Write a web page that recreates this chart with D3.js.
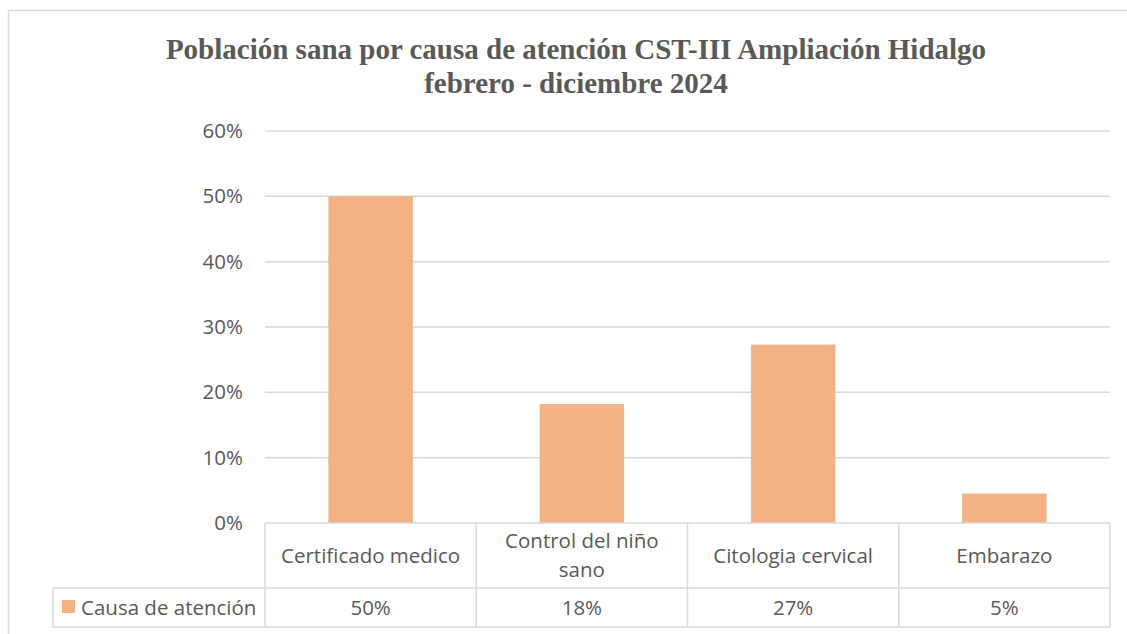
<!DOCTYPE html>
<html>
<head>
<meta charset="utf-8">
<script src="https://cdn.jsdelivr.net/npm/d3@7"></script>
<style>
  body { margin: 0; background: #fff; }
  svg text { fill: #595959; }
</style>
</head>
<body>
<div id="chartContainer"></div>
<script>
const categories = ['Certificado medico', 'Control del niño sano', 'Citologia cervical', 'Embarazo'];
const categoryLines = [['Certificado medico'], ['Control del niño', 'sano'], ['Citologia cervical'], ['Embarazo']];
const values = [0.50, 0.182, 0.273, 0.045];
const seriesName = 'Causa de atención';
const yTicks = [0, 0.1, 0.2, 0.3, 0.4, 0.5, 0.6];
const titleLines = ['Población sana por causa de atención CST-III Ampliación Hidalgo', 'febrero - diciembre 2024'];

const svgWidth = 1127;
const svgHeight = 634;
const plot = { left: 265, right: 1110, top: 131, bottom: 523 };
const rowH1 = 65, rowH2 = 39;
const legendLeft = 53;
const gridColor = '#d9d9d9';
const barColor = '#f4b183';
const labelSize = '20.5px';

const svg = d3.select('#chartContainer')
    .append('svg')
    .attr('width', svgWidth)
    .attr('height', svgHeight);

// outer chart border
svg.append('rect')
    .attr('x', 8.5).attr('y', 10.5)
    .attr('width', 1140).attr('height', 640)
    .attr('fill', 'none')
    .attr('stroke', gridColor)
    .attr('stroke-width', 1.5);

svg.append('g').selectAll('text')
    .data(titleLines)
    .enter().append('text')
    .attr('x', 576)
    .attr('y', (d, i) => 59 + i * 34)
    .attr('text-anchor', 'middle')
    .style('font-family', '"Liberation Serif", "Times New Roman", serif')
    .style('font-weight', 'bold')
    .style('font-size', '29px')
    .text(d => d);

const xScale = d3.scaleBand()
    .domain(categories)
    .range([plot.left, plot.right])
    .padding(0);

const yScale = d3.scaleLinear()
    .domain([0, 0.6])
    .range([plot.bottom, plot.top]);

// gridlines
svg.append('g').selectAll('line')
    .data(yTicks.filter(d => d > 0))
    .enter().append('line')
    .attr('x1', plot.left).attr('x2', plot.right)
    .attr('y1', d => yScale(d)).attr('y2', d => yScale(d))
    .attr('stroke', gridColor)
    .attr('stroke-width', 1.5);

const yAxis = d3.axisLeft(yScale)
    .tickValues(yTicks)
    .tickFormat(d3.format('.0%'))
    .tickSize(0)
    .tickPadding(22);

const yG = svg.append('g')
    .attr('transform', `translate(${plot.left}, 0)`)
    .call(yAxis);
yG.select('.domain').remove();
yG.selectAll('text')
    .style('font-family', '"Open Sans", sans-serif')
    .style('font-size', labelSize)
    .attr('fill', '#595959');

const barW = xScale.bandwidth() * 0.4;

svg.append('g').selectAll('rect')
    .data(values)
    .enter().append('rect')
    .attr('x', (d, i) => xScale(categories[i]) + (xScale.bandwidth() - barW) / 2)
    .attr('y', d => yScale(d))
    .attr('width', barW)
    .attr('height', d => plot.bottom - yScale(d))
    .attr('fill', barColor);

// data table
const table = svg.append('g')
    .attr('stroke', gridColor)
    .attr('stroke-width', 1.5)
    .attr('fill', 'none');

const row1Top = plot.bottom, row2Top = plot.bottom + rowH1, row2Bot = row2Top + rowH2;

table.append('line')
    .attr('x1', plot.left).attr('x2', plot.right)
    .attr('y1', row1Top).attr('y2', row1Top);
table.append('line')
    .attr('x1', legendLeft).attr('x2', plot.right)
    .attr('y1', row2Top).attr('y2', row2Top);
table.append('line')
    .attr('x1', legendLeft).attr('x2', plot.right)
    .attr('y1', row2Bot).attr('y2', row2Bot);
table.append('line')
    .attr('x1', legendLeft).attr('x2', legendLeft)
    .attr('y1', row2Top).attr('y2', row2Bot);

table.selectAll('.vline')
    .data(categories.map(c => xScale(c)).concat([plot.right]))
    .enter().append('line')
    .attr('class', 'vline')
    .attr('x1', d => d).attr('x2', d => d)
    .attr('y1', row1Top).attr('y2', row2Bot);

const cellFont = g => g
    .style('font-family', '"Open Sans", sans-serif')
    .style('font-size', labelSize)
    .attr('text-anchor', 'middle');

categoryLines.forEach((lines, i) => {
    const cx = xScale(categories[i]) + xScale.bandwidth() / 2;
    const cy = row1Top + rowH1 / 2;
    const lh = 29;
    svg.append('g').call(cellFont).selectAll('text')
        .data(lines)
        .enter().append('text')
        .attr('x', cx)
        .attr('y', (d, j) => cy + (j - (lines.length - 1) / 2) * lh)
        .attr('dy', '0.35em')
        .text(d => d);
});

svg.append('g').call(cellFont).selectAll('text')
    .data(values)
    .enter().append('text')
    .attr('x', (d, i) => xScale(categories[i]) + xScale.bandwidth() / 2)
    .attr('y', row2Top + rowH2 / 2)
    .attr('dy', '0.35em')
    .text(d => d3.format('.0%')(d));

// legend key
svg.append('rect')
    .attr('x', 62).attr('y', 600)
    .attr('width', 13).attr('height', 13)
    .attr('fill', barColor);
svg.append('text')
    .attr('x', 81)
    .attr('y', row2Top + rowH2 / 2)
    .attr('dy', '0.35em')
    .style('font-family', '"Open Sans", sans-serif')
    .style('font-size', labelSize)
    .text(seriesName);
</script>
</body>
</html>
